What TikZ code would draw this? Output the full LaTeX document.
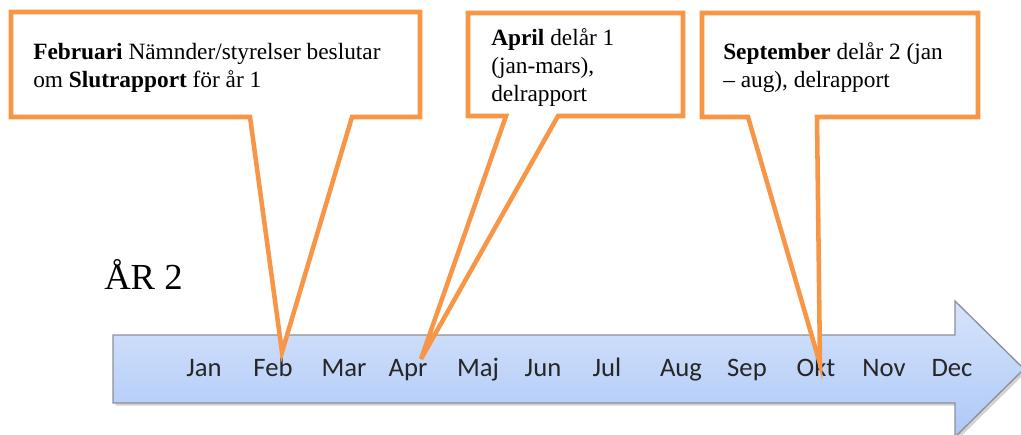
\documentclass[tikz,border=0pt]{standalone}
\usepackage{fontspec}
\setmainfont{Liberation Serif}
\newfontfamily\monthfont{Carlito}
\usetikzlibrary{shadows}
\definecolor{orangeline}{HTML}{F79646}
\definecolor{arrowtop}{HTML}{D6E4FC}
\definecolor{arrowbot}{HTML}{AEC8F6}
\definecolor{arrowedge}{HTML}{8E9096}
\begin{document}
\begin{tikzpicture}[x=0.75pt,y=-0.75pt,
	month/.style={anchor=base,inner sep=0pt,text=black!85,font=\monthfont\fontsize{20}{24}\selectfont},
	callout/.style={draw=orangeline,line width=3.4pt,fill=white,line join=miter},
	note/.style={anchor=base west,align=left,inner sep=0pt,font=\fontsize{17.5}{21}\selectfont}]
	\useasboundingbox (0,0) rectangle (1021,435);
	% tidslinjen
	\draw[arrowedge,line width=1pt,top color=arrowtop,bottom color=arrowbot,
		drop shadow={shadow xshift=2pt,shadow yshift=-2pt,opacity=0.35}]
		(113,335) -- (955,335) -- (955,301) -- (1024,369) -- (955,437) -- (955,403) -- (113,403) -- cycle;
	\foreach \m/\xx in {Jan/204,Feb/273,Mar/344,Apr/408,Maj/478,Jun/543,Jul/607,Aug/681,Sep/747,Okt/816,Nov/884,Dec/952}
		\node[month] (\m) at (\xx,376) {\m};
	\node[anchor=base west,inner sep=0pt,font=\fontsize{27.5}{32}\selectfont] (year) at (104,289) {ÅR 2};
	% pratbubblor
	\coordinate (febtip) at (282,352);
	\coordinate (aprtip) at (421,359);
	\coordinate (okttip) at (820,364);
	\draw[callout] (11,117) -- (11,12) -- (420,12) -- (420,117) -- (352,117) -- (febtip) -- (250,117) -- cycle;
	\draw[callout] (468,116) -- (468,13) -- (683,13) -- (683,116) -- (558,116) -- (aprtip) -- (506,116) -- cycle;
	\draw[callout] (702,117) -- (702,13) -- (978,13) -- (978,117) -- (817,117) -- (okttip) -- (748,117) -- cycle;
	% base = sista raden
	\node[note] (febnote) at (33,88) {\textbf{Februari} Nämnder/styrelser beslutar\\om \textbf{Slutrapport} för år 1};
	\node[note] (aprnote) at (491,102) {\textbf{April} delår 1\\(jan-mars),\\delrapport};
	\node[note] (septnote) at (723,88) {\textbf{September} delår 2 (jan\\-- aug), delrapport};
\end{tikzpicture}
\end{document}
